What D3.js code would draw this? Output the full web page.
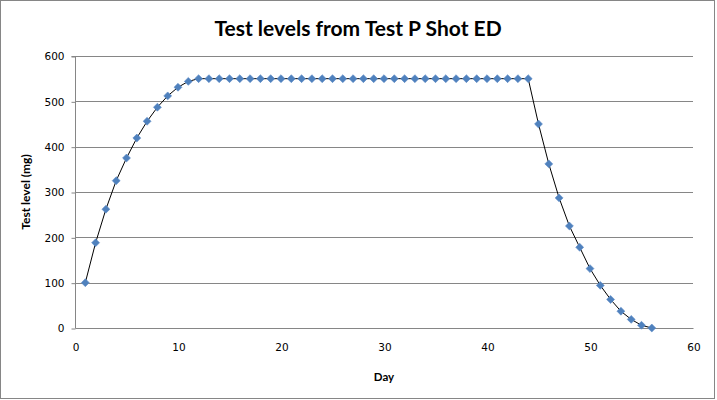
<!DOCTYPE html>
<html><head><meta charset="utf-8">
<script src="https://cdn.jsdelivr.net/npm/d3@7"></script>
<style>body{margin:0;background:#fff}svg{display:block}</style>
</head><body>
<script>
const days = d3.range(1, 57);
const levels = [100,188,262,325,375,419,456,487,512,531,544,
  550,550,550,550,550,550,550,550,550,550,550,550,550,550,550,550,550,550,550,550,550,550,550,550,550,550,550,550,550,550,550,550,550,
  450,362,287,225,178,131,94,63,37,19,6,0];
const xTicks = [0,10,20,30,40,50,60];
const yTicks = [0,100,200,300,400,500,600];
const title = "Test levels from Test P Shot ED";
const xLabel = "Day";
const yLabel = "Test level (mg)";

const W = 717, H = 400;
const m = {left:75, right:693, top:56, bottom:328};
const svg = d3.select("body").append("svg").attr("width", W).attr("height", H);
svg.append("rect").attr("x",0.5).attr("y",0.5).attr("width",714).attr("height",398)
  .attr("fill","#fff").attr("stroke","#868686");

const x = d3.scaleLinear().domain([0,60]).range([m.left, m.right]);
const y = d3.scaleLinear().domain([0,600]).range([m.bottom, m.top]);

// gridlines
svg.append("g").selectAll("line").data(yTicks.filter(d=>d>0)).join("line")
  .attr("x1", m.left).attr("x2", m.right)
  .attr("y1", d=>Math.round(y(d))+0.5).attr("y2", d=>Math.round(y(d))+0.5)
  .attr("stroke","#868686").attr("stroke-width",1);

// y axis
const yAxis = svg.append("g").attr("transform",`translate(${m.left+0.5},0.5)`)
  .call(d3.axisLeft(y).tickValues(yTicks).tickSize(4).tickPadding(7));
yAxis.select(".domain").attr("stroke","#868686").attr("d",`M-4,${m.top}H0V${m.bottom}`);
yAxis.selectAll(".tick line").attr("stroke","#868686");
yAxis.selectAll("text").attr("font-family","Tahoma, 'DejaVu Sans', sans-serif").attr("font-size","10.5px").attr("fill","#000");

// x axis
const xAxis = svg.append("g").attr("transform",`translate(0.5,${m.bottom+0.5})`)
  .call(d3.axisBottom(x).tickValues(xTicks).tickSize(0).tickPadding(15));
xAxis.select(".domain").attr("stroke","#868686").attr("d",`M${m.left},0H${m.right}`);
xAxis.selectAll("text").attr("font-family","Tahoma, 'DejaVu Sans', sans-serif").attr("font-size","10.5px").attr("fill","#000");

// line
const pts = days.map((d,i)=>[d, levels[i]]);
svg.append("path").datum(pts)
  .attr("d", d3.line().x(d=>x(d[0])).y(d=>y(d[1])))
  .attr("fill","none").attr("stroke","#000").attr("stroke-width",1);

// markers
svg.append("g").selectAll("path").data(pts).join("path")
  .attr("d", d3.symbol().type(d3.symbolDiamond2 || d3.symbolDiamond).size(40))
  .attr("transform", d=>`translate(${x(d[0])},${y(d[1])})`)
  .attr("fill","#4F81BD").attr("stroke","#5b8ac6").attr("stroke-width",0.6);

// title
svg.append("text").attr("x",358).attr("y",36).attr("text-anchor","middle")
  .attr("font-family","Lato, 'Open Sans', sans-serif").attr("font-weight","bold")
  .attr("font-size","21px").attr("fill","#000").text(title);

svg.append("text").attr("x",384).attr("y",381).attr("text-anchor","middle")
  .attr("font-family","Lato, 'Open Sans', sans-serif").attr("font-weight","bold")
  .attr("font-size","11.5px").text(xLabel);

svg.append("text").attr("transform","translate(30,192) rotate(-90)").attr("text-anchor","middle")
  .attr("font-family","Lato, 'Open Sans', sans-serif").attr("font-weight","bold")
  .attr("font-size","12px").text(yLabel);
</script>
</body></html>
